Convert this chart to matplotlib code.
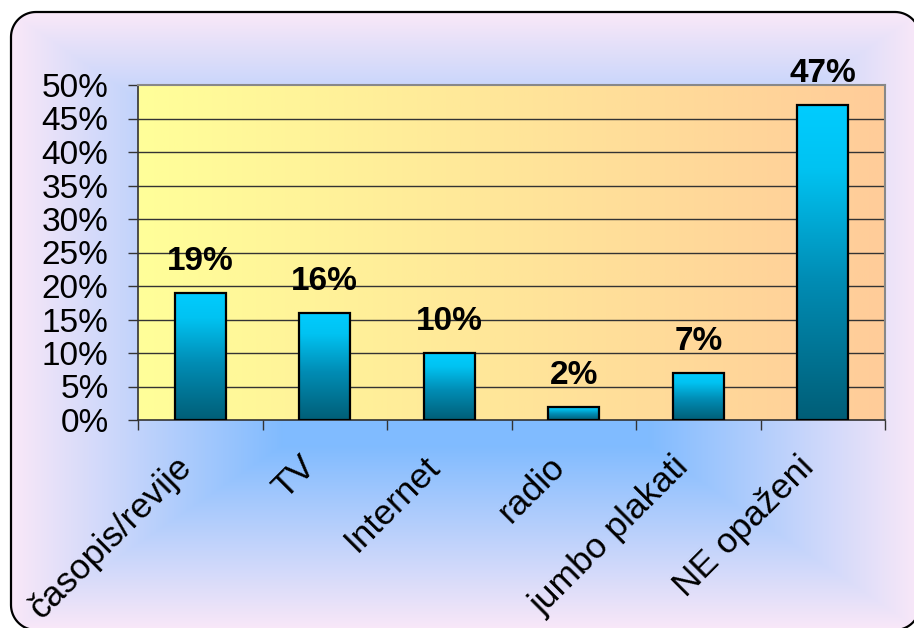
import numpy as np
import matplotlib
matplotlib.use('Agg')
import matplotlib.pyplot as plt
from matplotlib.colors import LinearSegmentedColormap, to_rgb
from matplotlib.patches import Polygon
from matplotlib.transforms import ScaledTranslation

plt.rcParams['font.family'] = ['Liberation Sans', 'DejaVu Sans']

# podaci
kategorije = ['časopis/revije', 'TV', 'Internet', 'radio', 'jumbo plakati', 'NE opaženi']
postotci = [19, 16, 10, 2, 7, 47]
y_ticks = list(range(0, 51, 5))

W, H = 914, 628
fig = plt.figure(figsize=(W / 100, H / 100), dpi=100)


def zaobljeni_pravokutnik(xl, yb, xr, yt, rad, k=20):
    # vrhovi pravokutnika sa zaobljenim kutovima, samo ravni segmenti
    pts = []
    for cx, cy, a0 in [(xr - rad, yt - rad, 0), (xl + rad, yt - rad, 90),
                       (xl + rad, yb + rad, 180), (xr - rad, yb + rad, 270)]:
        kut = np.radians(np.linspace(a0, a0 + 90, k))
        pts += list(zip(cx + rad * np.cos(kut), cy + rad * np.sin(kut)))
    return np.array(pts)


# pozadina - zaobljeni okvir, pravokutni prijelaz od sredine (plavo) prema rubu (ruzicasto)
bg = fig.add_axes([0, 0, 1, 1])
bg.set_xlim(0, W)
bg.set_ylim(0, H)
bg.axis('off')
yy, xx = np.mgrid[0:H, 0:W]
d = np.maximum(np.abs(xx - 465) / 455.0, np.abs(yy - 321) / 309.0)
t = np.clip((d - 0.4) / 0.6, 0, 1)[..., None]
c_in = np.array(to_rgb('#80BBFF'))
c_out = np.array(to_rgb('#FAE8F8'))
img = c_in * (1 - t) + c_out * t
okvir = Polygon(zaobljeni_pravokutnik(11, H - 630, 920, H - 12, 25), closed=True,
                fc='none', ec='black', lw=1.6, zorder=3)
bg.add_patch(okvir)
im = bg.imshow(img, extent=(0, W, 0, H), origin='upper', aspect='auto', zorder=1)
im.set_clip_path(okvir)

# podrucje grafa
x0, x1, y0, y1 = 138, 885, 85, 420
ax = fig.add_axes([x0 / W, 1 - y1 / H, (x1 - x0) / W, (y1 - y0) / H])
n = len(kategorije)

grad = LinearSegmentedColormap.from_list('plot_bg', ['#FFFF99', '#FFCC99'])
ax.imshow(np.linspace(0, 1, 256)[None, :], cmap=grad, aspect='auto',
          extent=(-0.5, n - 0.5, 0, 50), zorder=0)

for v in y_ticks[1:-1]:
    ax.axhline(v, color='#333333', lw=1, zorder=1)

bar_cmap = LinearSegmentedColormap.from_list(
    'bar', [(0, '#005E77'), (0.45, '#008DB5'), (0.8, '#00C3F2'), (1, '#00CCFF')])
bars = ax.bar(range(n), postotci, width=0.41, fc='none', ec='black', lw=1.6, zorder=3)
for b in bars:
    bx, bw, bh = b.get_x(), b.get_width(), b.get_height()
    g = ax.imshow(np.linspace(1, 0, 256)[:, None], cmap=bar_cmap, aspect='auto',
                  extent=(bx, bx + bw, 0, bh), zorder=2)
    g.set_clip_path(b)
    ax.annotate(f'{bh:.0f}%', (bx + bw / 2, bh), xytext=(0, 16.5), textcoords='offset points',
                ha='center', va='baseline', fontsize=24, fontweight='bold')

ax.set_xlim(-0.5, n - 0.5)
ax.set_ylim(0, 50)

ax.set_yticks(y_ticks)
ax.set_yticklabels([f'{v}%' for v in y_ticks], fontsize=24)
ax.tick_params(axis='y', length=7.2, width=1, color='#333333', pad=14)

ax.set_xticks(range(n))
ax.set_xticklabels(kategorije, fontsize=25.5)
ax.set_xticks(np.arange(-0.5, n, 1), minor=True)
ax.tick_params(axis='x', which='major', length=0, pad=30)
ax.tick_params(axis='x', which='minor', length=7.2, width=1, color='#333333')
pomak = ScaledTranslation(-0.14, 0, fig.dpi_scale_trans)
for lbl in ax.get_xticklabels():
    lbl.set_rotation(45)
    lbl.set_ha('right')
    lbl.set_va('center')
    lbl.set_rotation_mode('anchor')
    lbl.set_transform(lbl.get_transform() + pomak)

for s in ['top', 'right']:
    ax.spines[s].set_color('#888888')
    ax.spines[s].set_linewidth(1.5)
for s in ['left', 'bottom']:
    ax.spines[s].set_color('#333333')
    ax.spines[s].set_linewidth(1.2)

fig.savefig('out.png', dpi=100)
